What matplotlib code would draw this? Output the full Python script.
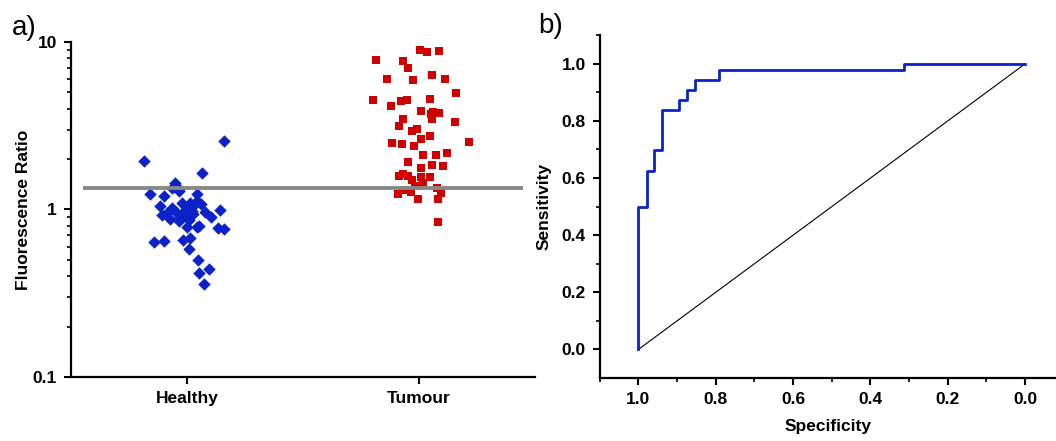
import numpy as np
import matplotlib
matplotlib.use('Agg')
import matplotlib.pyplot as plt
from matplotlib.ticker import FixedLocator, NullFormatter, LogLocator

plt.rcParams['font.family'] = ['Liberation Sans', 'DejaVu Sans']

# ---- Data ----
categories = ['Healthy', 'Tumour']

healthy_vals = [2.56, 1.95, 1.64, 1.43, 1.35, 1.32, 1.29, 1.23, 1.21, 1.23,
                1.12, 1.10, 1.10, 1.08, 1.05, 1.02, 1.04, 0.99, 1.01, 0.95,
                0.955, 0.98, 0.97, 0.93, 0.93, 0.90, 0.85, 0.87, 0.79, 0.79,
                0.80, 0.77, 0.76, 0.64, 0.65, 0.66, 0.68, 0.58, 0.50, 0.42,
                0.44, 0.36, 0.90, 0.94, 0.88, 0.96]
healthy_jitter = [0.158, -0.184, 0.065, -0.051, -0.065, -0.036, -0.036, -0.161, -0.101, 0.043,
                  0.043, -0.022, 0.014, 0.062, -0.115, -0.065, 0.022, 0.144, -0.003, -0.086,
                  -0.015, 0.022, -0.046, -0.108, -0.007, 0.104, -0.036, 0.007, 0.043, 0.000,
                  0.050, 0.132, 0.158, -0.141, -0.097, -0.015, 0.014, 0.010, 0.046, 0.053,
                  0.096, 0.072, -0.029, 0.027, -0.072, 0.079]

tumour_vals = [9.0, 8.67, 8.87, 7.83, 7.66, 7.02, 6.0, 5.95, 6.37, 5.98,
               4.97, 4.51, 4.14, 4.42, 4.51, 4.57, 3.86, 3.71, 3.83, 3.74,
               3.46, 3.49, 3.32, 3.13, 2.94, 3.04, 2.65, 2.75, 2.54, 2.49,
               2.47, 2.39, 2.11, 2.11, 2.17, 1.92, 1.77, 1.84, 1.82, 1.58,
               1.62, 1.58, 1.50, 1.56, 1.56, 1.43, 1.39, 1.31, 1.24, 1.27,
               1.34, 1.25, 1.15, 1.15, 0.84]
tumour_jitter = [0.004, 0.033, 0.088, -0.186, -0.070, -0.046, -0.136, -0.024, 0.055, 0.111,
                 0.158, -0.199, -0.122, -0.079, -0.050, 0.046, 0.007, 0.051, 0.062, 0.085,
                 0.055, -0.067, 0.154, -0.086, -0.028, -0.007, 0.007, 0.046, 0.215, -0.118,
                 -0.075, -0.022, 0.019, 0.073, 0.120, -0.049, 0.007, 0.055, 0.102, -0.086,
                 -0.067, -0.047, -0.032, 0.007, 0.046, 0.019, -0.019, -0.065, -0.089, -0.035,
                 0.076, 0.097, -0.006, 0.082, 0.084]

threshold = 1.35

# ROC step curve (specificity, sensitivity)
specificity = [1.0, 1.0, 0.979, 0.979, 0.959, 0.959, 0.938, 0.938, 0.896, 0.896,
               0.875, 0.875, 0.854, 0.854, 0.792, 0.792, 0.313, 0.313, 0.0]
sensitivity = [0.0, 0.5, 0.5, 0.623, 0.623, 0.697, 0.697, 0.838, 0.838, 0.874,
               0.874, 0.909, 0.909, 0.945, 0.945, 0.98, 0.98, 1.0, 1.0]

BLUE = '#0a22c8'
RED = '#d00000'

fig = plt.figure(figsize=(10.56, 4.41), dpi=100)

# ---- a) scatter ----
ax1 = fig.add_axes([0.0672, 0.145, 0.4394, 0.76])
ax1.scatter(1 + np.array(healthy_jitter), healthy_vals, marker='D', s=40,
            color=BLUE, linewidths=0, zorder=3)
ax1.scatter(2 + np.array(tumour_jitter), tumour_vals, marker='s', s=40,
            color=RED, linewidths=0, zorder=3)
ax1.plot([0.56, 2.44], [threshold, threshold], color='#888888', lw=2.8, zorder=4)

ax1.set_yscale('log')
ax1.set_ylim(0.1, 10)
ax1.set_xlim(0.5, 2.5)
ax1.set_xticks([1, 2])
ax1.set_xticklabels(categories)
ax1.set_yticks([0.1, 1, 10])
ax1.set_yticklabels(['0.1', '1', '10'])
ax1.yaxis.set_minor_locator(LogLocator(base=10, subs=np.arange(2, 10)))
ax1.yaxis.set_minor_formatter(NullFormatter())
ax1.set_ylabel('Fluorescence Ratio', fontsize=12.5, fontweight='bold', labelpad=1)
for side in ['top', 'right']:
    ax1.spines[side].set_visible(False)

# ---- b) ROC ----
ax2 = fig.add_axes([0.568, 0.143, 0.432, 0.777])
ax2.plot([1, 0], [0, 1], color='black', lw=0.8)
ax2.plot(specificity, sensitivity, color=BLUE, lw=2)
ax2.set_xlim(1.1, -0.08)
ax2.set_ylim(-0.1, 1.1)
ax2.xaxis.set_major_locator(FixedLocator([1.0, 0.8, 0.6, 0.4, 0.2, 0.0]))
ax2.xaxis.set_minor_locator(FixedLocator([1.1, 0.9, 0.7, 0.5, 0.3, 0.1]))
ax2.yaxis.set_major_locator(FixedLocator([0.0, 0.2, 0.4, 0.6, 0.8, 1.0]))
ax2.yaxis.set_minor_locator(FixedLocator([0.1, 0.3, 0.5, 0.7, 0.9, 1.1]))
ax2.xaxis.set_major_formatter(plt.FuncFormatter(lambda v, p: f'{v:.1f}'))
ax2.yaxis.set_major_formatter(plt.FuncFormatter(lambda v, p: f'{v:.1f}'))
ax2.set_xlabel('Specificity', fontsize=12.5, fontweight='bold', labelpad=9)
ax2.set_ylabel('Sensitivity', fontsize=12.5, fontweight='bold', labelpad=7)
for side in ['top', 'right']:
    ax2.spines[side].set_visible(False)

for ax in (ax1, ax2):
    for side in ['left', 'bottom']:
        ax.spines[side].set_linewidth(1.6)
    ax.tick_params(which='major', direction='out', length=5, width=1.5,
                   labelsize=12.5, pad=5)
    ax.tick_params(which='minor', direction='out', length=3, width=1.2)
    for lab in ax.get_xticklabels() + ax.get_yticklabels():
        lab.set_fontweight('bold')

fig.text(0.011, 0.92, 'a)', fontsize=20)
fig.text(0.510, 0.925, 'b)', fontsize=20)

fig.savefig('out.png', dpi=100)
